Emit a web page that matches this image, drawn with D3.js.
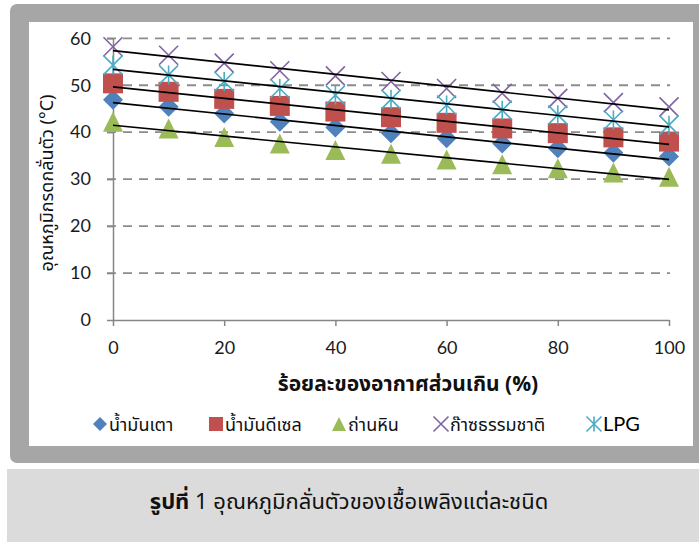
<!DOCTYPE html>
<meta charset="utf-8">
<title>อุณหภูมิกลั่นตัวของเชื้อเพลิงแต่ละชนิด</title>
<script src="https://d3js.org/d3.v7.min.js"></script>
<style>
    body { margin: 0; background: #ffffff; }
    text { font-family: Lato, "Open Sans", sans-serif; }
    text.thai { font-family: "Noto Sans Thai", "Loma", "Garuda", "Noto Sans", sans-serif; fill: #111; }
    text.xtitle { font-size: 21px; font-weight: bold; }
    text.ytitle { font-size: 18px; }
    text.legend { font-size: 18px; }
    text.caption { font-size: 22px; }
</style>
<div id="chart"></div>
<script>

// excess air (%)
var excessAir = [0, 10, 20, 30, 40, 50, 60, 70, 80, 90, 100];

// distillation temperature (°C)
var fuelOil    = [46.9, 45.4, 44.0, 42.2, 41.0, 39.8, 38.7, 37.6, 36.6, 35.6, 34.8];
var diesel     = [50.4, 48.6, 47.1, 45.6, 44.4, 43.2, 42.0, 40.8, 39.8, 38.9, 38.0];
var coal       = [42.2, 40.8, 39.0, 37.6, 36.2, 35.4, 34.2, 33.2, 32.3, 31.4, 30.5];
var naturalGas = [58.2, 56.4, 54.7, 53.1, 52.0, 50.8, 49.3, 48.3, 47.2, 46.3, 45.4];
var lpg        = [54.3, 52.2, 50.8, 49.3, 47.9, 47.0, 45.8, 44.7, 43.7, 42.6, 41.5];

var seriesNames = ["น้ำมันเตา", "น้ำมันดีเซล", "ถ่านหิน", "ก๊าซธรรมชาติ", "LPG"];
var seriesValues = [fuelOil, diesel, coal, naturalGas, lpg];

var xTicks = [0, 20, 40, 60, 80, 100];
var yTicks = [0, 10, 20, 30, 40, 50, 60];

var xTitle = "ร้อยละของอากาศส่วนเกิน (%)";
var yTitle = "อุณหภูมิกรดกลั่นตัว (°C)";
var captionBold = "รูปที่";
var captionText = " 1 อุณหภูมิกลั่นตัวของเชื้อเพลิงแต่ละชนิด";

var shapes = ["diamond", "square", "triangle", "x", "star"];
var colors = ["#4f81bd", "#c0504d", "#9bbb59", "#8064a2", "#4bacc6"];

var W = 699, H = 542;

var svg = d3.select("#chart")
  .append("svg")
    .attr("width", W)
    .attr("height", H);

// grey frame round the chart
svg.append("rect")
  .attr("x", 10).attr("y", 4)
  .attr("width", 720).attr("height", 459)
  .attr("rx", 7)
  .attr("fill", "#a6a6a6");

svg.append("rect")
  .attr("x", 29).attr("y", 22)
  .attr("width", 664).attr("height", 424)
  .attr("fill", "#ffffff");

// caption band
svg.append("rect")
  .attr("x", 7).attr("y", 469)
  .attr("width", 720).attr("height", 80)
  .attr("fill", "#dbdbdb");

var x = d3.scaleLinear().domain([0, 100]).range([113, 669]);
var y = d3.scaleLinear().domain([0, 60]).range([320, 38.3]);

// gridlines
svg.append("g")
  .selectAll("line")
  .data(yTicks.filter(function(d) { return d > 0; }))
  .enter()
  .append("line")
    .attr("x1", 107)
    .attr("x2", 670)
    .attr("y1", function(d) { return y(d); })
    .attr("y2", function(d) { return y(d); })
    .attr("stroke", "#8c8c8c")
    .attr("stroke-width", 1.8)
    .attr("stroke-dasharray", "9,7");

// axes
var gx = svg.append("g")
  .attr("transform", "translate(0," + y(0) + ")")
  .call(d3.axisBottom(x).tickValues(xTicks).tickSize(6).tickSizeOuter(0).tickPadding(15));

var gy = svg.append("g")
  .attr("transform", "translate(" + x(0) + ",0)")
  .call(d3.axisLeft(y).tickValues(yTicks).tickSize(6).tickSizeOuter(0).tickPadding(16));

[gx, gy].forEach(function(g) {
  g.select(".domain").attr("stroke", "#868686").attr("stroke-width", 1.5);
  g.selectAll(".tick line").attr("stroke", "#868686").attr("stroke-width", 1.5);
  g.selectAll(".tick text")
    .attr("fill", "#1a1a1a")
    .style("font-family", "Lato, 'Open Sans', sans-serif")
    .style("font-size", "18px");
});

// marker shapes
function markerPath(type, r) {
  if (type == "diamond") return "M0," + (-r) + "L" + r + ",0L0," + r + "L" + (-r) + ",0Z";
  if (type == "square") return "M" + (-r) + "," + (-r) + "H" + r + "V" + r + "H" + (-r) + "Z";
  if (type == "triangle") return "M0," + (-r) + "L" + r + "," + r + "L" + (-r) + "," + r + "Z";
  if (type == "x") return "M" + (-r) + "," + (-r) + "L" + r + "," + r + "M" + r + "," + (-r) + "L" + (-r) + "," + r;
  // star: x with a vertical bar
  return "M" + (-r) + "," + (-r) + "L" + r + "," + r + "M" + r + "," + (-r) + "L" + (-r) + "," + r +
         "M0," + (-r) + "L0," + r;
}

function drawMarker(sel, i, r) {
  var open = shapes[i] == "x" || shapes[i] == "star";
  sel.attr("d", markerPath(shapes[i], r))
    .attr("fill", open ? "none" : colors[i])
    .attr("stroke", open ? colors[i] : "none")
    .attr("stroke-width", open ? 1.6 : 0);
}

// points
seriesValues.forEach(function(vals, i) {
  svg.append("g")
    .selectAll("path")
    .data(vals)
    .enter()
    .append("path")
      .attr("transform", function(d, j) { return "translate(" + x(excessAir[j]) + "," + y(d) + ")"; })
      .call(drawMarker, i, shapes[i] == "x" || shapes[i] == "star" ? 9.5 : 10);
});

// linear trendlines
seriesValues.forEach(function(vals) {
  var mx = d3.mean(excessAir), my = d3.mean(vals);
  var sxy = d3.sum(excessAir, function(d, j) { return (d - mx) * (vals[j] - my); });
  var sxx = d3.sum(excessAir, function(d) { return (d - mx) * (d - mx); });
  var b = sxy / sxx, a = my - b * mx;
  svg.append("line")
    .attr("x1", x(0)).attr("y1", y(a))
    .attr("x2", x(100)).attr("y2", y(a + b * 100))
    .attr("stroke", "#000")
    .attr("stroke-width", 1.7);
});

// axis titles
svg.append("text")
  .attr("class", "thai xtitle")
  .attr("x", 408)
  .attr("y", 391)
  .attr("text-anchor", "middle")
  .text(xTitle);

svg.append("text")
  .attr("class", "thai ytitle")
  .attr("transform", "translate(53,183) rotate(-90)")
  .attr("text-anchor", "middle")
  .text(yTitle);

// legend
var legendX = [100, 216, 339, 441, 594];
var legendY = 424;
seriesNames.forEach(function(name, i) {
  var open = shapes[i] == "x" || shapes[i] == "star";
  svg.append("path")
    .attr("transform", "translate(" + legendX[i] + "," + legendY + ")")
    .call(drawMarker, i, open ? 7.5 : 7);
  svg.append("text")
    .attr("class", i == 4 ? "legend" : "thai legend")
    .attr("x", legendX[i] + 9)
    .attr("y", legendY + 7)
    .style("font-size", i == 4 ? "20px" : null)
    .text(name);
});

// caption
var cap = svg.append("text")
  .attr("class", "thai caption")
  .attr("x", 349)
  .attr("y", 509)
  .attr("text-anchor", "middle");
cap.append("tspan").attr("font-weight", "bold").text(captionBold);
cap.append("tspan").text(captionText);

</script>
